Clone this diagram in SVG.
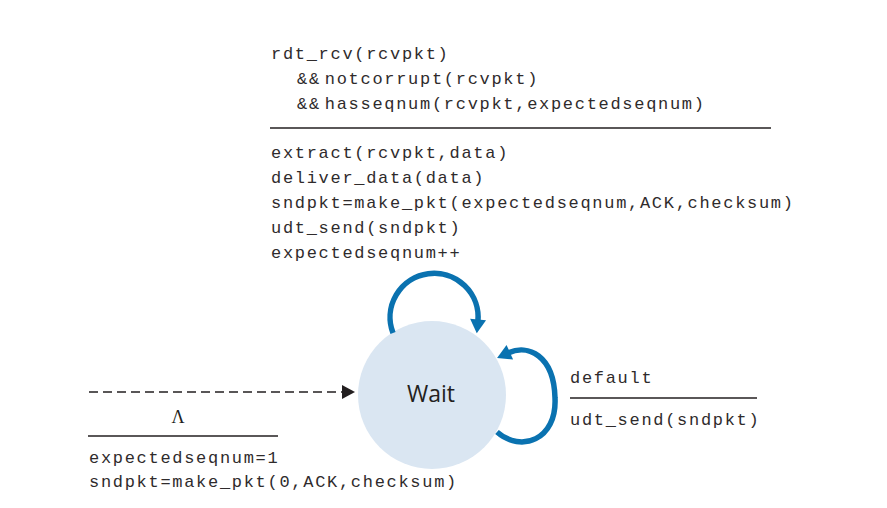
<svg xmlns="http://www.w3.org/2000/svg" width="887" height="508" viewBox="0 0 887 508">
<style>
.mono{font-family:"Liberation Mono","DejaVu Sans Mono",monospace;font-size:17px;letter-spacing:1.7px;fill:#2f2b2c}
.rule{stroke:#231f20;stroke-width:1.3;fill:none}
.loop{stroke:#0a72b0;stroke-width:5.5;fill:none}
</style>
<defs>
<marker id="bluehead" markerUnits="userSpaceOnUse" markerWidth="24" markerHeight="24" refX="2" refY="12" orient="auto" overflow="visible">
<path d="M0,4 L14,12 L0,20 z" fill="#0a72b0"/>
</marker>
<marker id="blackhead" markerUnits="userSpaceOnUse" markerWidth="20" markerHeight="20" refX="0" refY="10" orient="auto" overflow="visible">
<path d="M0,3 L13,10 L0,17 z" fill="#231f20"/>
</marker>
</defs>
<rect width="887" height="508" fill="#ffffff"/>

<g id="wait">
<circle cx="432" cy="395" r="74" fill="#dae6f2"/>
<text x="431" y="402" text-anchor="middle" font-family="'Open Sans','Noto Sans',sans-serif" font-size="23" fill="#231f20">Wait</text>
</g>

<g id="connectors">
<path class="rule" d="M89,392 H342" stroke-dasharray="9,5" marker-end="url(#blackhead)"/>
<path class="loop" d="M393,333 A44,44 0 1 1 477.9,321.4" marker-end="url(#bluehead)"/>
<path class="loop" d="M497,432 C521,453 557,440 555,398 C554,355 528,344 508,353" marker-end="url(#bluehead)"/>
</g>

<g id="label-top">
<text class="mono" x="271" y="59">rdt_rcv(rcvpkt)</text>
<text class="mono" x="297" y="84">&amp;&amp;<tspan dx="4">notcorrupt(rcvpkt)</tspan></text>
<text class="mono" x="297" y="109">&amp;&amp;<tspan dx="4">hasseqnum(rcvpkt,expectedseqnum)</tspan></text>
<line class="rule" x1="270" y1="128" x2="771" y2="128"/>
<text class="mono" x="271" y="158">extract(rcvpkt,data)</text>
<text class="mono" x="271" y="183">deliver_data(data)</text>
<text class="mono" x="271" y="208">sndpkt=make_pkt(expectedseqnum,ACK,checksum)</text>
<text class="mono" x="271" y="233">udt_send(sndpkt)</text>
<text class="mono" x="271" y="258">expectedseqnum++</text>
</g>

<g id="label-right">
<text class="mono" x="570" y="383">default</text>
<line class="rule" x1="570" y1="398" x2="757" y2="398"/>
<text class="mono" x="570" y="425">udt_send(sndpkt)</text>
</g>

<g id="label-init">
<text x="178" y="423" text-anchor="middle" font-family="'Liberation Serif',serif" font-size="18" fill="#231f20">Λ</text>
<line class="rule" x1="88" y1="436" x2="278" y2="436"/>
<text class="mono" x="89" y="463">expectedseqnum=1</text>
<text class="mono" x="89" y="487">sndpkt=make_pkt(0,ACK,checksum)</text>
</g>
</svg>
